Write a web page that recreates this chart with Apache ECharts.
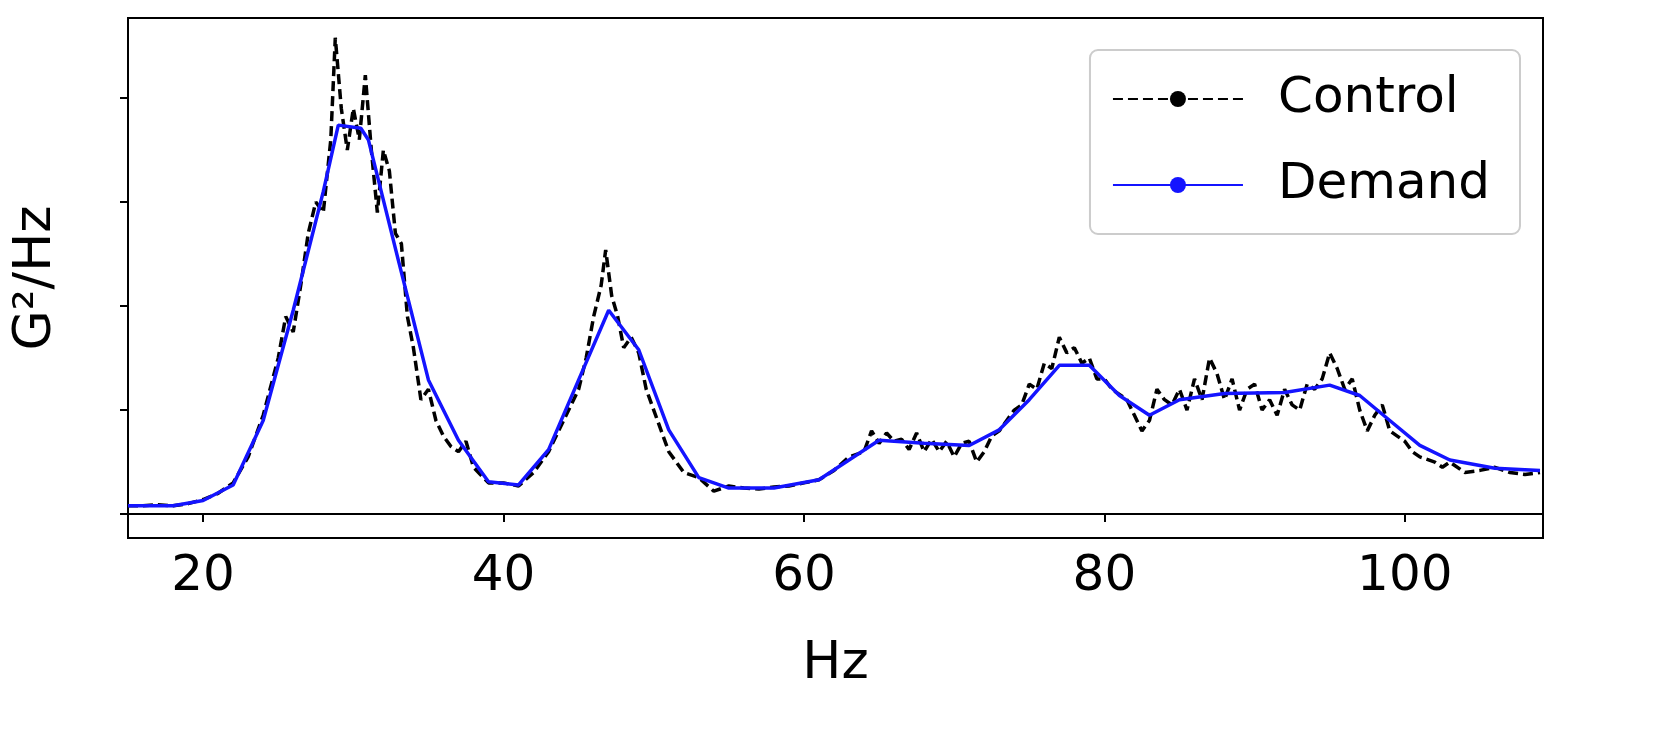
<!DOCTYPE html>
<html><head><meta charset="utf-8">
<script src="https://cdn.jsdelivr.net/npm/echarts@6/dist/echarts.min.js"></script>
<style>html,body{margin:0;padding:0;background:#fff}#c{width:1656px;height:741px}</style>
</head><body><div id="c"></div>
<script>
const xTicks=[20,40,60,80,100];
const yTicks=[0,1,2,3,4];
const demandX=[15,18,20,22,24,26,28,29,30.5,31,33,35,37,39,41,43,45,47,49,51,53,55,58,61,63,65,68,71,73,75,77,79,81,83,85,88,92,95,97,99,101,103,106,109];
const demandY=[0.08,0.08,0.13,0.28,0.9,1.96,3.1,3.74,3.71,3.6,2.44,1.29,0.71,0.31,0.28,0.62,1.29,1.96,1.58,0.81,0.35,0.25,0.25,0.33,0.52,0.71,0.68,0.66,0.81,1.1,1.43,1.43,1.14,0.95,1.1,1.16,1.17,1.24,1.14,0.9,0.66,0.52,0.44,0.42];
const controlX=[15,16,17,18,19,20,21,22,23,24,25,25.5,26,26.5,27,27.5,28,28.5,28.8,29.2,29.6,30,30.4,30.8,31.2,31.6,32,32.4,32.8,33.2,33.6,34,34.5,35,35.5,36,36.5,37,37.5,38,39,40,41,42,43,44,45,45.5,46,46.5,46.8,47.2,47.6,48,48.5,49,49.5,50,50.5,51,52,53,54,55,56,57,58,59,60,61,62,63,64,64.5,65,65.5,66,66.5,67,67.5,68,68.5,69,69.5,70,70.5,71,71.5,72,72.5,73,73.5,74,74.5,75,75.5,76,76.5,77,77.5,78,78.5,79,79.5,80,80.5,81,81.5,82,82.5,83,83.5,84,84.5,85,85.5,86,86.5,87,87.5,88,88.5,89,89.5,90,90.5,91,91.5,92,92.5,93,93.5,94,94.5,95,95.5,96,96.5,97,97.5,98,98.5,99,99.5,100,100.5,101,102,102.5,103,104,105,106,107,108,109];
const controlY=[0.08,0.08,0.09,0.08,0.1,0.14,0.2,0.3,0.55,0.95,1.5,1.9,1.75,2.2,2.7,3.0,2.9,3.6,4.58,3.9,3.5,3.9,3.6,4.22,3.5,2.9,3.5,3.3,2.7,2.6,1.9,1.6,1.1,1.2,0.9,0.75,0.65,0.6,0.7,0.45,0.3,0.3,0.27,0.4,0.6,0.9,1.2,1.5,1.9,2.2,2.54,2.1,1.9,1.6,1.7,1.55,1.2,1.0,0.8,0.6,0.4,0.35,0.22,0.27,0.25,0.24,0.26,0.27,0.3,0.33,0.42,0.55,0.6,0.8,0.68,0.78,0.7,0.72,0.62,0.78,0.6,0.72,0.6,0.7,0.55,0.68,0.7,0.5,0.6,0.75,0.8,0.9,1.0,1.05,1.25,1.2,1.45,1.4,1.7,1.55,1.6,1.45,1.5,1.3,1.3,1.2,1.15,1.1,0.95,0.8,0.9,1.2,1.1,1.05,1.2,1.0,1.3,1.1,1.5,1.35,1.1,1.3,1.0,1.2,1.25,1.0,1.1,0.95,1.2,1.05,1.0,1.25,1.2,1.3,1.55,1.4,1.2,1.3,1.0,0.8,0.95,1.05,0.8,0.75,0.7,0.6,0.55,0.5,0.45,0.5,0.4,0.42,0.45,0.4,0.38,0.4];
const zip=(a,b)=>a.map((v,i)=>[v,b[i]]);
const F='DejaVu Sans';
const chart=echarts.init(document.getElementById('c'));
chart.setOption({
  animation:false,
  grid:{left:128,right:113,top:18,bottom:203,show:true,borderColor:'#000',borderWidth:2,backgroundColor:'transparent'},
  xAxis:{type:'value',min:15,max:109.2,name:'Hz',nameLocation:'middle',nameGap:100,
    nameTextStyle:{fontFamily:F,fontSize:52,color:'#000'},
    axisLine:{show:true,lineStyle:{color:'#000',width:2}},
    axisTick:{show:true,length:8,lineStyle:{color:'#000',width:2},customValues:xTicks},
    axisLabel:{fontFamily:F,fontSize:50,color:'#000',margin:14,customValues:xTicks},
    splitLine:{show:false}},
  yAxis:{type:'value',min:-0.23,max:4.77,name:'G²/Hz',nameLocation:'middle',nameGap:66,
    nameTextStyle:{fontFamily:F,fontSize:52,color:'#000'},
    axisLine:{show:true,lineStyle:{color:'#000',width:2}},
    axisTick:{show:true,length:8,lineStyle:{color:'#000',width:2},customValues:yTicks},
    axisLabel:{show:false},splitLine:{show:false}},
  legend:{right:136,top:50,orient:'vertical',itemWidth:130,itemHeight:20,itemGap:36,
    padding:[24,30,24,22],borderColor:'#ccc',borderWidth:2,borderRadius:8,
    textStyle:{fontFamily:F,fontSize:50,color:'#000',padding:[0,0,0,30]},
    data:['Control','Demand']},
  series:[
    {name:'Control',type:'line',data:zip(controlX,controlY),showSymbol:false,symbol:'none',
     lineStyle:{color:'#000',width:3.5,type:[10,5]},itemStyle:{color:'#000'},z:2},
    {name:'Demand',type:'line',data:zip(demandX,demandY),showSymbol:false,symbol:'none',
     lineStyle:{color:'#1414ff',width:3.5},itemStyle:{color:'#1414ff'},z:3}
  ]
});
</script></body></html>
